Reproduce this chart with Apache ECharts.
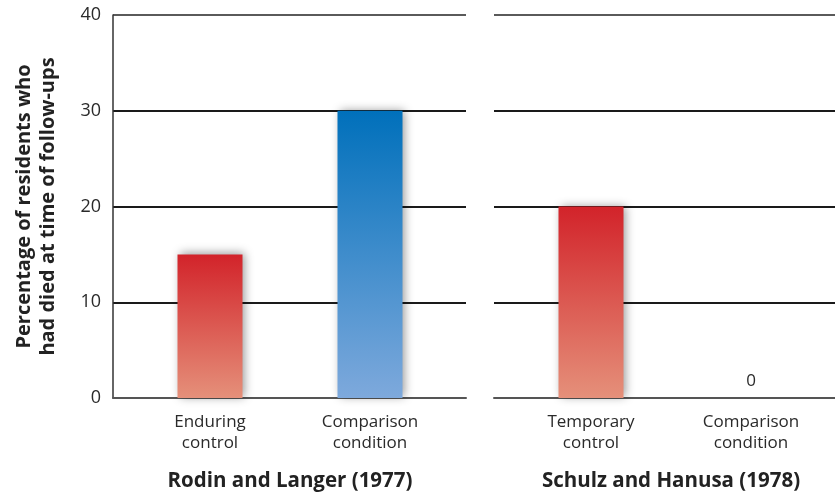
<!DOCTYPE html>
<html>
<head>
<meta charset="utf-8">
<script src="https://cdn.jsdelivr.net/npm/echarts@6/dist/echarts.min.js"></script>
<style>
  html, body { margin: 0; padding: 0; background: #fff; }
  #chart { width: 835px; height: 496px; }
</style>
</head>
<body>
<div id="chart"></div>
<script>
// Study panels and their conditions
const leftStudy = 'Rodin and Langer (1977)';
const rightStudy = 'Schulz and Hanusa (1978)';
const leftCategories = ['Enduring\ncontrol', 'Comparison\ncondition'];
const rightCategories = ['Temporary\ncontrol', 'Comparison\ncondition'];
// Percentage of residents who had died at time of follow-ups
const leftValues = [15, 30];
const rightValues = [20, 0];
// Which fill each bar uses
const leftKinds = ['control', 'comparison'];
const rightKinds = ['control', 'comparison'];
const yTicks = [0, 10, 20, 30, 40];
const yTitle = 'Percentage of residents who\nhad died at time of follow-ups';

const FONT = '"Open Sans", "Noto Sans", sans-serif';
const YMIN = yTicks[0], YMAX = yTicks[yTicks.length - 1], YSTEP = yTicks[1] - yTicks[0];

const fills = {
  control: new echarts.graphic.LinearGradient(0, 0, 0, 1, [
    { offset: 0, color: '#d2232a' },
    { offset: 1, color: '#e5907a' }
  ]),
  comparison: new echarts.graphic.LinearGradient(0, 0, 0, 1, [
    { offset: 0, color: '#0070bb' },
    { offset: 1, color: '#7ea9dc' }
  ])
};

function barData(values, kinds) {
  return values.map((v, i) => ({
    value: v,
    itemStyle: { color: fills[kinds[i]] },
    label: { show: v === 0 }
  }));
}

const gridTop = 15, gridBottom = 98;
const frame = { top: gridTop, bottom: gridBottom, outerBoundsMode: 'none', containLabel: false };

// Grids 0 and 2 carry the horizontal rules; grids 1 and 3 carry the bars.
const grids = [
  Object.assign({ left: 113, width: 353 }, frame),
  Object.assign({ left: 130, width: 320 }, frame),
  Object.assign({ left: 494, width: 345 }, frame),
  Object.assign({ left: 511, width: 320 }, frame)
];

function ruleYAxis(gridIndex, withLabels) {
  return {
    type: 'value', gridIndex, min: YMIN, max: YMAX, interval: YSTEP,
    axisLine: { show: withLabels, lineStyle: { color: '#333', width: 1.5 } },
    axisTick: { show: false },
    axisLabel: withLabels
      ? { show: true, fontFamily: FONT, fontSize: 18, color: '#2a2a2a', margin: 12 }
      : { show: false },
    splitLine: {
      show: true,
      lineStyle: { color: ['#555', '#1a1a1a', '#1a1a1a', '#1a1a1a', '#5a5a5a'], width: 2.2 }
    },
    name: withLabels ? yTitle : '',
    nameLocation: 'middle',
    nameGap: 53,
    nameRotate: 90,
    nameTextStyle: { fontFamily: FONT, fontSize: 20, fontWeight: 'bold', color: '#222', lineHeight: 24 }
  };
}

function hiddenYAxis(gridIndex) {
  return {
    type: 'value', gridIndex, min: YMIN, max: YMAX, interval: YSTEP,
    axisLine: { show: false }, axisTick: { show: false },
    axisLabel: { show: false }, splitLine: { show: false }
  };
}

function ruleXAxis(gridIndex) {
  return {
    type: 'category', gridIndex, data: [''],
    axisLine: { show: true, lineStyle: { color: '#555', width: 2 } },
    axisTick: { show: false }, axisLabel: { show: false }
  };
}

function barXAxis(gridIndex, cats, study) {
  return {
    type: 'category', gridIndex, data: cats,
    axisLine: { show: false }, axisTick: { show: false },
    axisLabel: { fontFamily: FONT, fontSize: 17, color: '#2a2a2a', lineHeight: 21, margin: 14 },
    name: study,
    nameLocation: 'middle',
    nameGap: 73,
    nameTextStyle: { fontFamily: FONT, fontSize: 20.5, fontWeight: 'bold', color: '#222' }
  };
}

const barStyle = {
  shadowBlur: 9,
  shadowColor: 'rgba(0,0,0,0.4)',
  shadowOffsetX: 2,
  shadowOffsetY: -1
};

const chart = echarts.init(document.getElementById('chart'), null, { renderer: 'canvas' });
chart.setOption({
  animation: false,
  backgroundColor: '#fff',
  grid: grids,
  xAxis: [
    ruleXAxis(0),
    barXAxis(1, leftCategories, leftStudy),
    ruleXAxis(2),
    barXAxis(3, rightCategories, rightStudy)
  ],
  yAxis: [
    ruleYAxis(0, true),
    hiddenYAxis(1),
    ruleYAxis(2, false),
    hiddenYAxis(3)
  ],
  series: [
    {
      type: 'bar', xAxisIndex: 1, yAxisIndex: 1, barWidth: 65,
      data: barData(leftValues, leftKinds),
      itemStyle: barStyle,
      label: { position: 'top', fontFamily: FONT, fontSize: 17, color: '#2a2a2a', distance: 8 }
    },
    {
      type: 'bar', xAxisIndex: 3, yAxisIndex: 3, barWidth: 65,
      data: barData(rightValues, rightKinds),
      itemStyle: barStyle,
      label: { position: 'top', fontFamily: FONT, fontSize: 17, color: '#2a2a2a', distance: 8 }
    }
  ]
});
</script>
</body>
</html>
